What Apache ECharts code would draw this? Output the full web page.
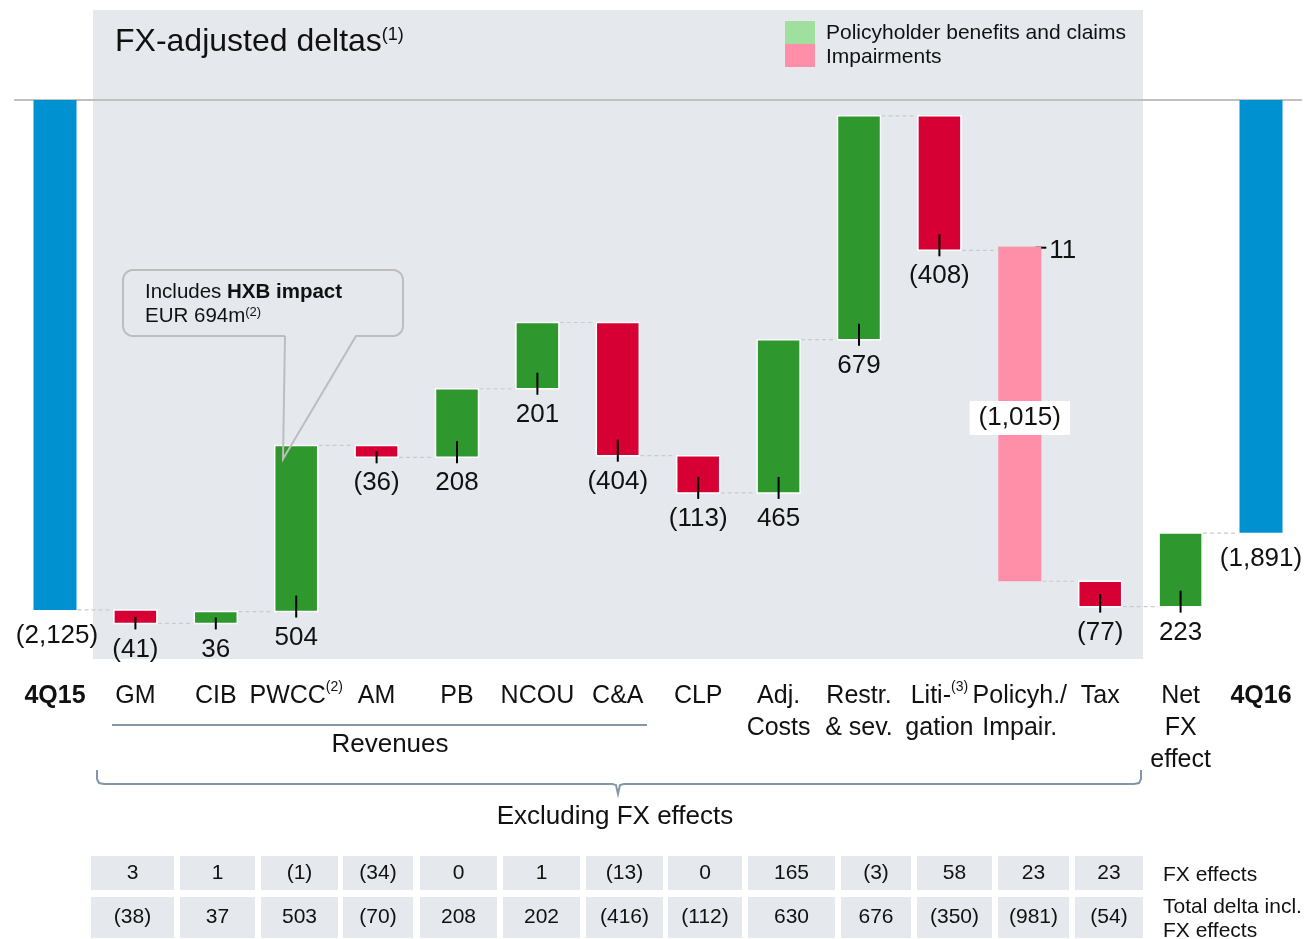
<!DOCTYPE html>
<html>
<head>
<meta charset="utf-8">
<script src="https://cdn.jsdelivr.net/npm/echarts@6/dist/echarts.min.js"></script>
<style>
  html, body { margin: 0; padding: 0; background: #fff; }
  #chart { width: 1312px; height: 939px; }
</style>
</head>
<body>
<div id="chart"></div>
<script>
// categories on the x axis
var categories = ['4Q15', 'GM', 'CIB', 'PWCC', 'AM', 'PB', 'NCOU', 'C&A', 'CLP', 'Adj.\nCosts', 'Restr.\n& sev.', 'Liti-\ngation', 'Policyh./\nImpair.', 'Tax', 'Net\nFX\neffect', '4Q16'];
var startValue = -2125;   // 4Q15
var endValue = -1891;     // 4Q16
// FX-adjusted deltas GM .. Tax, Net FX effect (null = split bar policyholder / impairments)
var deltas = [-41, 36, 504, -36, 208, 201, -404, -113, 465, 679, -408, null, -77, 223];
var policyholderDelta = 11;
var impairmentDelta = -1015;
// table under the chart (GM .. Tax)
var fxEffects = [3, 1, -1, -34, 0, 1, -13, 0, 165, -3, 58, 23, 23];
var totalDelta = [-38, 37, 503, -70, 208, 202, -416, -112, 630, 676, -350, -981, -54];

var FONT = '"Liberation Sans", Arial, sans-serif';
var colors = { total: '#0091d1', up: '#2e972e', down: '#d70034', policy: '#9fe09f', impair: '#ff8fa8' };
var yMax = -578, yMin = -2320;

function fmt(v) {
    var s = Math.abs(v).toLocaleString('en-US');
    return v < 0 ? '(' + s + ')' : String(s);
}

// waterfall pieces
var bars = [];
var cur = startValue;
bars.push({ x: 0, from: yMax, to: startValue, kind: 'total', label: startValue });
for (var i = 0; i < deltas.length; i++) {
    var x = i + 1;
    if (deltas[i] === null) {
        bars.push({ x: x, from: cur, to: cur + policyholderDelta, kind: 'policy', label: policyholderDelta, link: cur });
        cur += policyholderDelta;
        bars.push({ x: x, from: cur, to: cur + impairmentDelta, kind: 'impair', label: impairmentDelta });
        cur += impairmentDelta;
    } else {
        bars.push({ x: x, from: cur, to: cur + deltas[i], kind: deltas[i] >= 0 ? 'up' : 'down', label: deltas[i], link: cur });
        cur += deltas[i];
    }
}
bars.push({ x: categories.length - 1, from: yMax, to: endValue, kind: 'total', label: endValue, link: cur });

function renderItem(params, api) {
    var b = bars[params.dataIndex];
    var p1 = api.coord([b.x, b.from]);
    var p2 = api.coord([b.x, b.to]);
    var bw = 43;
    var cx = p1[0];
    var top = Math.min(p1[1], p2[1]), bot = Math.max(p1[1], p2[1]);
    var kids = [];
    var inner = b.kind === 'up' || b.kind === 'down';
    kids.push({
        type: 'rect',
        shape: { x: cx - bw / 2, y: top, width: bw, height: Math.max(bot - top, 1) },
        style: { fill: colors[b.kind], stroke: inner ? '#fff' : null, lineWidth: inner ? 1.5 : 0 }
    });
    if (b.link != null) {
        var ly = api.coord([b.x, b.link])[1];
        var prevX = api.coord([b.x - 1, b.link])[0];
        kids.push({
            type: 'line',
            shape: { x1: prevX + bw / 2 + 1, y1: ly, x2: cx - bw / 2 - 1, y2: ly },
            style: { stroke: '#c9cbce', lineWidth: 1.2, lineDash: [4, 3] }
        });
    }
    var txtStyle = { fontSize: 26, fontFamily: FONT, fill: '#111', align: 'center', verticalAlign: 'middle' };
    if (b.kind === 'policy') {
        var rx = cx + bw / 2;
        kids.push({ type: 'line', shape: { x1: rx - 6, y1: top + 1, x2: rx + 5, y2: top + 1 }, style: { stroke: '#000', lineWidth: 2 } });
        kids.push({ type: 'text', x: rx + 8, y: top + 4, style: Object.assign({}, txtStyle, { text: fmt(b.label), align: 'left' }) });
    } else if (b.kind === 'impair') {
        kids.push({
            type: 'text', x: cx, y: (top + bot) / 2 + 4,
            style: Object.assign({}, txtStyle, { text: fmt(b.label), backgroundColor: '#fff', padding: [4, 9, 4, 9] })
        });
    } else {
        if (inner) {
            var t0 = Math.max((top + bot) / 2, bot - 16);
            kids.push({ type: 'line', shape: { x1: cx, y1: t0, x2: cx, y2: bot + 6 }, style: { stroke: '#000', lineWidth: 2 } });
        }
        kids.push({ type: 'text', x: cx + (b.x === 0 ? 2 : 0), y: bot + 26, style: Object.assign({}, txtStyle, { text: fmt(b.label) }) });
    }
    return { type: 'group', children: kids };
}

// ---- annotations (graphic) ----
var graphics = [];
// grey panel
graphics.push({ type: 'rect', z: -10, shape: { x: 93, y: 10, width: 1050, height: 649 }, style: { fill: '#e5e8ed' } });
// title
graphics.push({
    type: 'text', x: 115, y: 42,
    style: {
        text: 'FX-adjusted deltas{s|(1)}', fontSize: 32, fontFamily: FONT, fill: '#111', verticalAlign: 'middle',
        rich: { s: { fontSize: 18, lineHeight: 19, verticalAlign: 'top', fontFamily: FONT, fill: '#111' } }
    }
});
// legend
graphics.push({ type: 'rect', shape: { x: 785, y: 21, width: 30, height: 23 }, style: { fill: colors.policy } });
graphics.push({ type: 'rect', shape: { x: 785, y: 44, width: 30, height: 23 }, style: { fill: colors.impair } });
graphics.push({ type: 'text', x: 826, y: 33, style: { text: 'Policyholder benefits and claims', fontSize: 21, fontFamily: FONT, fill: '#111', verticalAlign: 'middle' } });
graphics.push({ type: 'text', x: 826, y: 57, style: { text: 'Impairments', fontSize: 21, fontFamily: FONT, fill: '#111', verticalAlign: 'middle' } });

// callout with pointer
function arcPts(cx, cy, r, a0, a1) {
    var pts = [];
    for (var k = 0; k <= 6; k++) {
        var a = a0 + (a1 - a0) * k / 6;
        pts.push([cx + r * Math.cos(a), cy + r * Math.sin(a)]);
    }
    return pts;
}
var cl = 123, cr = 403, ct = 270, cb = 336, rr = 10;
var calloutPts = [[285, cb], [283, 459], [356, cb]]
    .concat(arcPts(cr - rr, cb - rr, rr, Math.PI / 2, 0))
    .concat(arcPts(cr - rr, ct + rr, rr, 0, -Math.PI / 2))
    .concat(arcPts(cl + rr, ct + rr, rr, -Math.PI / 2, -Math.PI))
    .concat(arcPts(cl + rr, cb - rr, rr, Math.PI, Math.PI / 2))
    .concat([[285, cb]]);
graphics.push({ type: 'polyline', z: 50, shape: { points: calloutPts }, style: { stroke: '#bdbdbd', lineWidth: 2, fill: null } });
graphics.push({
    type: 'text', x: 145, y: 292, z: 50,
    style: { text: 'Includes {b|HXB impact}', fontSize: 20.5, fontFamily: FONT, fill: '#111', verticalAlign: 'middle',
        rich: { b: { fontSize: 20.5, fontWeight: 'bold', fontFamily: FONT, fill: '#111' } } }
});
graphics.push({
    type: 'text', x: 145, y: 316, z: 50,
    style: { text: 'EUR 694m{s|(2)}', fontSize: 20.5, fontFamily: FONT, fill: '#111', verticalAlign: 'middle',
        rich: { s: { fontSize: 13, lineHeight: 14, verticalAlign: 'top', fontFamily: FONT, fill: '#111' } } }
});

// Revenues bracket
graphics.push({ type: 'line', shape: { x1: 112, y1: 725, x2: 647, y2: 725 }, style: { stroke: '#8497a8', lineWidth: 2 } });
graphics.push({ type: 'text', x: 390, y: 745, style: { text: 'Revenues', fontSize: 26, fontFamily: FONT, fill: '#111', align: 'center', verticalAlign: 'middle' } });

// Excluding FX effects brace
graphics.push({
    type: 'polyline',
    shape: { points: [[97, 770], [97, 779], [99, 783], [104, 784], [612, 784], [616, 785], [618, 794], [620, 785], [624, 784], [1134, 784], [1139, 783], [1141, 779], [1141, 770]] },
    style: { stroke: '#8497a8', lineWidth: 2, fill: null }
});
graphics.push({ type: 'text', x: 615, y: 817, style: { text: 'Excluding FX effects', fontSize: 26, fontFamily: FONT, fill: '#111', align: 'center', verticalAlign: 'middle' } });

// table cells (x ranges of columns GM .. Tax)
var cellEdges = [[91, 174], [180, 255], [261, 338], [343, 413], [420, 497], [503, 580], [586, 663], [668, 742], [748, 835], [841, 911], [917, 992], [998, 1069], [1075, 1143]];
var rows = [{ vals: fxEffects, y: 856, h: 34, ty: 873 }, { vals: totalDelta, y: 897, h: 41, ty: 917 }];
rows.forEach(function (row) {
    row.vals.forEach(function (v, j) {
        var e = cellEdges[j];
        graphics.push({ type: 'rect', shape: { x: e[0], y: row.y, width: e[1] - e[0], height: row.h }, style: { fill: '#e5e8ed' } });
        graphics.push({ type: 'text', x: (e[0] + e[1]) / 2, y: row.ty, style: { text: fmt(v), fontSize: 21, fontFamily: FONT, fill: '#111', align: 'center', verticalAlign: 'middle' } });
    });
});
graphics.push({ type: 'text', x: 1163, y: 875, style: { text: 'FX effects', fontSize: 21, fontFamily: FONT, fill: '#111', verticalAlign: 'middle' } });
graphics.push({ type: 'text', x: 1163, y: 895, style: { text: 'Total delta incl.\nFX effects', fontSize: 21, lineHeight: 24, fontFamily: FONT, fill: '#111', verticalAlign: 'top' } });

// category label formatting
function catLabel(v) {
    if (v === '4Q15' || v === '4Q16') return '{b|' + v + '}';
    if (v === 'PWCC') return 'PWCC{s|(2)}';
    if (v === 'Liti-\ngation') return 'Liti-{s|(3)}\ngation';
    return v;
}

var chart = echarts.init(document.getElementById('chart'));
chart.setOption({
    animation: false,
    grid: { left: 14.8, right: 10.8, top: 100, bottom: 264.8 },
    xAxis: [{
        type: 'category',
        data: categories,
        position: 'bottom',
        axisLine: { show: false },
        axisTick: { show: false },
        axisLabel: {
            interval: 0, margin: 6, fontSize: 25, lineHeight: 32, color: '#111', fontFamily: FONT,
            formatter: catLabel,
            rich: {
                b: { fontSize: 25, lineHeight: 32, fontWeight: 'bold', color: '#111', fontFamily: FONT },
                s: { fontSize: 14, lineHeight: 16, verticalAlign: 'top', color: '#111', fontFamily: FONT }
            }
        }
    }, {
        type: 'category',
        data: categories,
        position: 'top',
        axisLine: { show: true, lineStyle: { color: '#c0c0c0', width: 2 } },
        axisTick: { show: false },
        axisLabel: { show: false }
    }],
    yAxis: { type: 'value', min: yMin, max: yMax, show: false, splitLine: { show: false } },
    graphic: { elements: graphics },
    series: [{
        type: 'custom',
        renderItem: renderItem,
        clip: false,
        encode: { x: 0, y: [1, 2] },
        data: bars.map(function (b) { return [b.x, b.from, b.to]; }),
        z: 3
    }]
});
</script>
</body>
</html>
